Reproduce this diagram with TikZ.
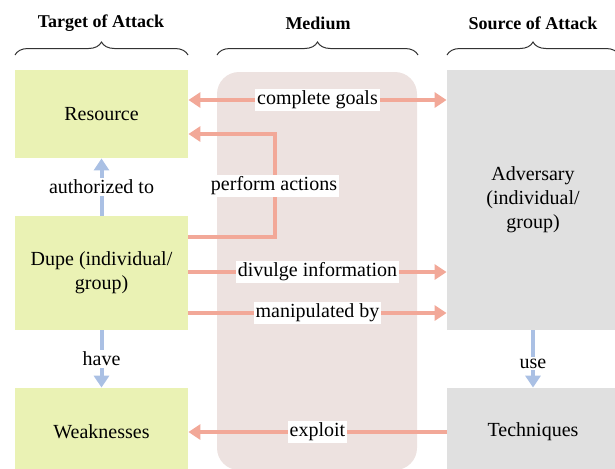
\documentclass[tikz,border=0pt]{standalone}
\usepackage{fontspec}
\setmainfont{Liberation Serif}
\usetikzlibrary{arrows.meta,decorations.pathreplacing}
\definecolor{targetgreen}{RGB}{234,242,180}
\definecolor{sourcegray}{RGB}{224,224,224}
\definecolor{mediumpink}{RGB}{237,226,224}
\definecolor{linkred}{RGB}{242,168,152}
\definecolor{linkblue}{RGB}{170,192,228}
\tikzset{
  target/.style={fill=targetgreen, draw=none, minimum width=86.5pt, align=center, font=\fontsize{10}{12}\selectfont},
  source/.style={fill=sourcegray, draw=none, minimum width=86pt, align=center, font=\fontsize{10}{12}\selectfont},
  redlink/.style={draw=linkred, line width=2pt, -{Triangle[length=6pt,width=7.5pt]}},
  redboth/.style={draw=linkred, line width=2pt, {Triangle[length=6pt,width=7.5pt]}-{Triangle[length=6pt,width=7.5pt]}},
  bluelink/.style={draw=linkblue, line width=2pt, -{Triangle[length=6pt,width=7.5pt]}},
  tag/.style={fill=white, inner sep=1pt, font=\fontsize{10}{12}\selectfont},
  header/.style={font=\bfseries\fontsize{9}{11}\selectfont},
  bracket/.style={draw=black!80, line width=0.5pt, decorate, decoration={brace, amplitude=6.5pt}}
}
\begin{document}
\begin{tikzpicture}[x=0.5pt, y=-0.5pt]
\useasboundingbox (0,0) rectangle (615,468);
\clip (0,0) rectangle (615,468);

% medium band behind the links
\node[fill=mediumpink, draw=none, rounded corners=11pt, minimum width=100pt, minimum height=199pt] (medium) at (317,271) {};

% target side
\node[target, minimum height=44pt] (resource) at (101.5,114) {Resource};
\node[target, minimum height=57pt] (dupe) at (101.5,273) {Dupe (individual/\\group)};
\node[target, minimum height=44pt] (weak) at (101.5,432) {Weaknesses};

% source side
\node[source, minimum height=130pt] (adv) at (533,200) {Adversary\\(individual/\\group)};
\node[source, minimum height=44pt] (tech) at (533,432) {Techniques};

% headers and braces
\node[header] (h1) at (101,23) {Target of Attack};
\node[header] (h2) at (318,23) {Medium};
\node[header] (h3) at (533,23) {Source of Attack};
\coordinate (b1l) at (15,55);  \coordinate (b1r) at (188,55);
\coordinate (b2l) at (217,55); \coordinate (b2r) at (418,55);
\coordinate (b3l) at (447,55); \coordinate (b3r) at (619,55);
\draw[bracket] (b1l) -- (b1r);
\draw[bracket] (b2l) -- (b2r);
\draw[bracket] (b3l) -- (b3r);

% links across the medium
\draw[redboth] (resource.east |- 0,100) -- node[tag] {complete goals} (adv.west |- 0,100);
\coordinate (pa1) at (275,237);
\coordinate (pa2) at (275,134);
\draw[redlink] (dupe.east |- pa1) -- (pa1) -- (pa2) -- (resource.east |- pa2);
\node[tag] (patag) at (274,186) {perform actions};
\draw[redlink] (dupe.east |- 0,272) -- node[tag] {divulge information} (adv.west |- 0,272);
\draw[redlink] (dupe.east |- 0,313) -- node[tag] {manipulated by} (adv.west |- 0,313);
\draw[redlink] (tech.west) -- node[tag] {exploit} (weak.east);

% vertical links
\draw[bluelink] (dupe.north) -- node[tag] {authorized to} (resource.south);
\draw[bluelink] (dupe.south) -- node[tag] {have} (weak.north);
\draw[bluelink] (adv.south) -- node[tag, pos=0.58] {use} (tech.north);
\end{tikzpicture}
\end{document}
